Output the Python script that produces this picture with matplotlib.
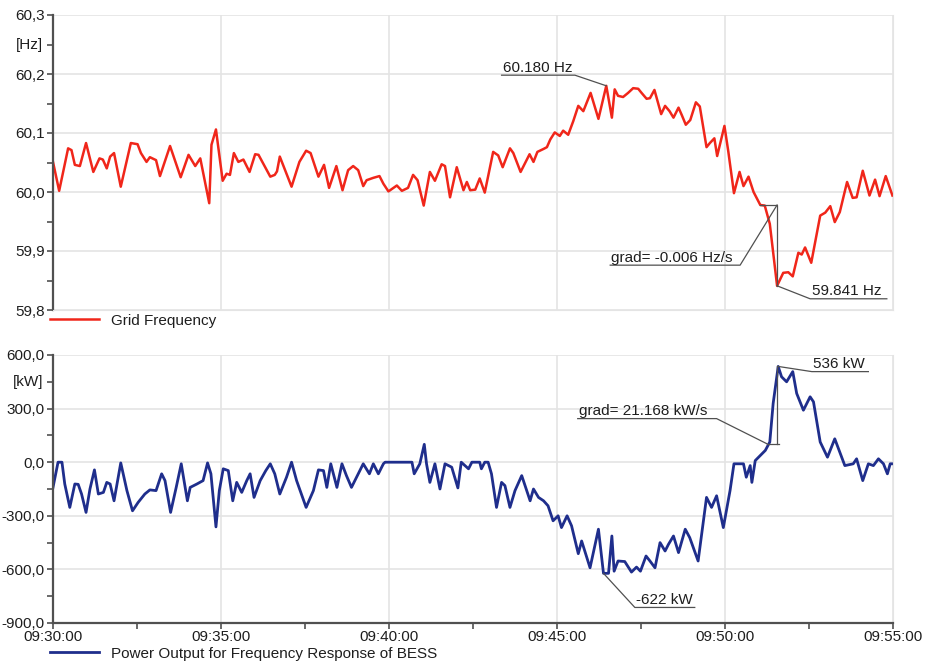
import numpy as np
import matplotlib.pyplot as plt

# seconds after 09:30:00 and grid frequency [Hz]
freq_t_s = [0, 11, 27, 33, 39, 48, 59, 72, 83, 89,
            96, 102, 109, 121, 139, 151, 157, 167, 173, 184,
            191, 209, 228, 242, 254, 263, 279, 283, 291, 303,
            310, 316, 323, 331, 340, 351, 361, 367, 388, 396,
            400, 405, 426, 440, 452, 460, 474, 484, 493, 506,
            517, 527, 536, 545, 554, 560, 572, 583, 590, 599,
            614, 623, 634, 643, 651, 662, 673, 682, 694, 700,
            709, 721, 733, 739, 745, 754, 762, 771, 786, 795,
            803, 816, 822, 835, 851, 858, 865, 876, 882, 888,
            896, 905, 911, 920, 929, 938, 947, 960, 974, 988,
            998, 1003, 1009, 1018, 1027, 1036, 1045, 1051, 1060, 1066,
            1074, 1086, 1093, 1101, 1108, 1117, 1123, 1130, 1138, 1148,
            1155, 1167, 1173, 1181, 1186, 1199, 1206, 1216, 1226, 1233,
            1242, 1251, 1263, 1271, 1280, 1293, 1304, 1313, 1321, 1331,
            1337, 1343, 1354, 1370, 1379, 1388, 1396, 1405, 1418, 1428,
            1435, 1446, 1458, 1468, 1476, 1487, 1499]
freq_hz = [60.051, 60.002, 60.074, 60.071, 60.046, 60.044, 60.083, 60.034, 60.057, 60.055,
           60.040, 60.060, 60.066, 60.009, 60.083, 60.081, 60.066, 60.051, 60.059, 60.054,
           60.027, 60.078, 60.025, 60.063, 60.044, 60.057, 59.981, 60.080, 60.106, 60.019,
           60.031, 60.029, 60.066, 60.051, 60.055, 60.034, 60.064, 60.063, 60.026, 60.029,
           60.035, 60.060, 60.009, 60.051, 60.070, 60.066, 60.026, 60.046, 60.007, 60.044,
           60.003, 60.037, 60.044, 60.037, 60.010, 60.020, 60.024, 60.027, 60.014, 60.001,
           60.011, 60.002, 60.007, 60.029, 60.020, 59.977, 60.034, 60.019, 60.047, 60.044,
           59.991, 60.042, 60.003, 60.017, 60.003, 60.004, 60.023, 59.999, 60.068, 60.062,
           60.042, 60.074, 60.066, 60.034, 60.064, 60.051, 60.068, 60.073, 60.076, 60.089,
           60.101, 60.095, 60.104, 60.097, 60.120, 60.146, 60.137, 60.168, 60.124, 60.180,
           60.126, 60.174, 60.163, 60.161, 60.168, 60.176, 60.175, 60.168, 60.158, 60.159,
           60.173, 60.132, 60.146, 60.137, 60.126, 60.143, 60.130, 60.114, 60.122, 60.152,
           60.145, 60.076, 60.083, 60.091, 60.061, 60.112, 60.068, 59.998, 60.034, 60.010,
           60.026, 60.000, 59.978, 59.977, 59.946, 59.841, 59.863, 59.864, 59.857, 59.897,
           59.894, 59.906, 59.880, 59.960, 59.965, 59.976, 59.949, 59.966, 60.017, 59.990,
           59.991, 60.036, 59.994, 60.021, 59.993, 60.027, 59.994]

# seconds after 09:30:00 and BESS power output [kW]
power_t_s = [0, 9, 16, 21, 30, 39, 45, 51, 59, 66,
             74, 81, 90, 96, 102, 109, 121, 132, 142, 152,
             164, 173, 184, 194, 200, 210, 220, 229, 240, 245,
             257, 268, 276, 282, 291, 297, 304, 313, 321, 328,
             337, 346, 352, 359, 370, 380, 388, 396, 405, 417,
             426, 435, 452, 465, 474, 483, 489, 496, 507, 516,
             524, 533, 542, 554, 565, 572, 581, 590, 593, 641,
             645, 655, 663, 667, 673, 682, 691, 700, 712, 723,
             729, 742, 748, 762, 765, 771, 777, 783, 792, 801,
             807, 816, 825, 837, 843, 852, 858, 867, 876, 884,
             893, 902, 908, 918, 926, 938, 944, 959, 974, 983,
             992, 998, 1002, 1009, 1021, 1033, 1042, 1049, 1059, 1066,
             1075, 1084, 1093, 1099, 1108, 1117, 1129, 1137, 1152, 1167,
             1176, 1185, 1197, 1209, 1216, 1233, 1238, 1245, 1248, 1254,
             1266, 1272, 1280, 1286, 1295, 1301, 1310, 1321, 1328, 1340,
             1352, 1358, 1370, 1383, 1396, 1405, 1414, 1429, 1435, 1446,
             1456, 1465, 1474, 1483, 1490, 1495, 1500]
power_kw = [-141, 0, 0, -122, -253, -122, -124, -178, -281, -150,
            -43, -178, -169, -113, -122, -216, -4, -159, -272, -225,
            -178, -155, -159, -65, -103, -281, -141, -9, -216, -141,
            -122, -103, -4, -65, -362, -159, -37, -47, -216, -113,
            -169, -103, -65, -197, -103, -47, -9, -65, -178, -84,
            0, -103, -253, -159, -43, -47, -141, -9, -141, -9,
            -75, -141, -84, -9, -65, -9, -65, -9, 0, 0,
            -65, -9, 100, -9, -113, -9, -150, -9, -28, -144,
            0, -37, 0, 0, -37, 0, 0, -65, -253, -113,
            -131, -253, -159, -75, -131, -216, -150, -197, -216, -244,
            -328, -300, -366, -300, -356, -512, -441, -591, -375, -622,
            -622, -413, -610, -553, -556, -615, -587, -610, -525, -553,
            -591, -450, -497, -460, -413, -506, -375, -422, -553, -197,
            -253, -188, -366, -159, -9, -9, -84, -19, -113, 9,
            47, 66, 113, 329, 536, 478, 450, 507, 385, 291,
            366, 338, 113, 28, 131, 56, -19, -9, 19, -103,
            -9, -19, 19, -9, -65, -9, -9]

x_ticks_s = [0, 300, 600, 900, 1200, 1500]
x_tick_labels = ["09:30:00", "09:35:00", "09:40:00", "09:45:00", "09:50:00", "09:55:00"]
freq_ticks = [59.8, 59.9, 60.0, 60.1, 60.2, 60.3]
freq_tick_labels = ["59,8", "59,9", "60,0", "60,1", "60,2", "60,3"]
power_ticks = [-900, -600, -300, 0, 300, 600]
power_tick_labels = ["-900,0", "-600,0", "-300,0", "0,0", "300,0", "600,0"]

plt.rcParams['font.family'] = ['Liberation Sans', 'DejaVu Sans']
plt.rcParams['font.size'] = 11

RED = '#f0261a'
BLUE = '#1f2e8c'
AXC = '#505050'
GRIDC = '#e4e4e4'
ANNC = '#505050'
TXT = '#1e1e1e'

fig = plt.figure(figsize=(9.25, 6.66), dpi=100)
ax1 = fig.add_axes([53 / 925, 1 - 310 / 666, 840 / 925, 295 / 666])
ax2 = fig.add_axes([53 / 925, 1 - 623 / 666, 840 / 925, 268 / 666])


def style(ax, yticks, ylabels, unit):
    ax.set_xlim(x_ticks_s[0], x_ticks_s[-1])
    ax.set_ylim(yticks[0], yticks[-1])
    ax.set_xticks(x_ticks_s)
    ax.set_xticks(np.array(x_ticks_s[:-1]) + 150, minor=True)
    ax.set_yticks(yticks)
    ax.set_yticklabels(ylabels)
    ax.set_yticks((np.array(yticks[:-1]) + np.array(yticks[1:])) / 2, minor=True)
    ax.grid(True, which='major', color=GRIDC, lw=1.2)
    ax.set_axisbelow(True)
    ax.spines['top'].set_visible(False)
    ax.spines['right'].set_color(GRIDC)
    ax.spines['left'].set_color(AXC)
    ax.spines['left'].set_linewidth(1.6)
    ax.tick_params(axis='y', which='both', direction='out', color=AXC,
                   length=4, width=1.2, pad=2, labelsize=11, labelcolor=TXT)
    # unit label sits in place of the top minor tick label
    ax.text(-0.012, (yticks[-1] + yticks[-2]) / 2, unit, transform=ax.get_yaxis_transform(),
            ha='right', va='center', fontsize=11, color=TXT)


style(ax1, freq_ticks, freq_tick_labels, "[Hz]")
style(ax2, power_ticks, power_tick_labels, "[kW]")

ax1.tick_params(axis='x', which='both', bottom=False, labelbottom=False)
ax1.spines['bottom'].set_color(GRIDC)

ax2.set_xticklabels(x_tick_labels)
ax2.spines['bottom'].set_color(AXC)
ax2.spines['bottom'].set_linewidth(1.6)
ax2.tick_params(axis='x', which='both', direction='out', color=AXC,
                length=4, width=1.2, pad=1, labelsize=11, labelcolor=TXT)

ax1.plot(freq_t_s, freq_hz, color=RED, lw=1.8, solid_joinstyle='round',
         label="Grid Frequency")
ax2.plot(power_t_s, power_kw, color=BLUE, lw=2.0, solid_joinstyle='round',
         label="Power Output for Frequency Response of BESS")

for ax, dy in ((ax1, -0.012), (ax2, -0.088)):
    ax.legend(loc='upper left', bbox_to_anchor=(-0.004, dy), frameon=False,
              handlelength=3.2, handletextpad=0.8, borderpad=0, borderaxespad=0,
              fontsize=11, labelcolor=TXT)

# annotations: frequency
f_t = np.array(freq_t_s)
f_v = np.array(freq_hz)
i_max = int(np.argmax(f_v))
i_min = int(np.argmin(f_v))
tmax, vmax = f_t[i_max], f_v[i_max]
tmin, vmin = f_t[i_min], f_v[i_min]

kw = dict(color=ANNC, lw=0.9)
ax1.plot([tmax - 187, tmax - 56, tmax], [vmax + 0.018, vmax + 0.018, vmax], **kw)
ax1.text(tmax - 185, vmax + 0.019, f"{vmax:.3f} Hz", ha='left', va='bottom', color=TXT)

ax1.plot([tmin, tmin + 59, tmin + 196], [vmin, vmin - 0.022, vmin - 0.022], **kw)
ax1.text(tmin + 62, vmin - 0.021, f"{vmin:.3f} Hz", ha='left', va='bottom', color=TXT)

v_start = np.interp(tmin - 30, f_t, f_v)
ax1.plot([tmin - 30, tmin, tmin], [v_start, v_start, vmin], **kw)
ax1.plot([tmin, tmin - 66, tmin - 298], [v_start, v_start - 0.102, v_start - 0.102], **kw)
ax1.text(tmin - 296, v_start - 0.101, "grad= -0.006 Hz/s", ha='left', va='bottom', color=TXT)

# annotations: power
p_t = np.array(power_t_s)
p_v = np.array(power_kw)
j_max = int(np.argmax(p_v))
j_min = int(np.argmin(p_v))
ptmax, pvmax = p_t[j_max], p_v[j_max]
ptmin, pvmin = p_t[j_min], p_v[j_min]

ax2.plot([ptmax, ptmax + 60, ptmax + 161], [pvmax, pvmax - 29, pvmax - 29], **kw)
ax2.text(ptmax + 62, pvmax - 26, f"{pvmax:d} kW", ha='left', va='bottom', color=TXT)

ax2.plot([ptmin, ptmin + 56, ptmin + 163], [pvmin, pvmin - 191, pvmin - 191], **kw)
ax2.text(ptmin + 58, pvmin - 188, f"{pvmin:d} kW", ha='left', va='bottom', color=TXT)

g_x = ptmax - 3
g_low = 103
ax2.plot([g_x - 17, g_x + 5], [g_low, g_low], **kw)
ax2.plot([g_x, g_x], [g_low, pvmax], **kw)
ax2.plot([g_x - 17, g_x - 107, g_x - 355], [g_low, 244, 244], **kw)
ax2.text(g_x - 352, 247, "grad= 21.168 kW/s", ha='left', va='bottom', color=TXT)

plt.savefig("out.png", dpi=100)
